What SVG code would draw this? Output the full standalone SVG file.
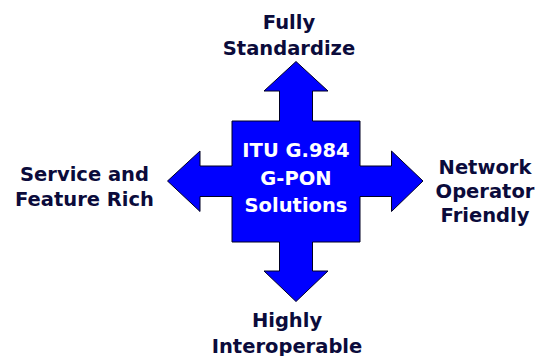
<svg xmlns="http://www.w3.org/2000/svg" width="539" height="356" viewBox="0 0 539 356">
<style>
.lbl{font-family:"DejaVu Sans","Liberation Sans",sans-serif;font-weight:bold;font-size:19.5px;fill:#0b0b3b;text-anchor:middle}
.ctr{font-family:"DejaVu Sans","Liberation Sans",sans-serif;font-weight:bold;font-size:19.5px;fill:#ffffff;text-anchor:middle}
.shape{fill:#0000ff;stroke:#000022;stroke-width:1}
</style>
<rect width="539" height="356" fill="#ffffff"/>
<g id="connectors">
<g id="hub">
<path class="shape" d="M296,61.5 L328,91 L312.5,91 L312.5,121 L360,121 L360,166 L391.5,166 L391.5,151 L423,181 L391.5,211.5 L391.5,196.5 L360,196.5 L360,242 L312.5,242 L312.5,271 L328,271 L296,301.5 L264,271 L279.5,271 L279.5,242 L232,242 L232,196.5 L200,196.5 L200,211.5 L167.5,181 L200,151 L200,166 L232,166 L232,121 L279.5,121 L279.5,91 L264,91 Z"/>
<text class="ctr" x="296" y="157">ITU G.984</text>
<text class="ctr" x="296" y="185">G-PON</text>
<text class="ctr" x="296" y="212">Solutions</text>
</g>
</g>
<g id="top">
<text class="lbl" x="289" y="29">Fully</text>
<text class="lbl" x="289" y="55">Standardize</text>
</g>
<g id="bottom">
<text class="lbl" x="287" y="327">Highly</text>
<text class="lbl" x="287" y="352.5">Interoperable</text>
</g>
<g id="left">
<text class="lbl" x="84.5" y="181">Service and</text>
<text class="lbl" x="84.5" y="206">Feature Rich</text>
</g>
<g id="right">
<text class="lbl" x="485" y="174">Network</text>
<text class="lbl" x="485" y="198">Operator</text>
<text class="lbl" x="485" y="222">Friendly</text>
</g>
</svg>
